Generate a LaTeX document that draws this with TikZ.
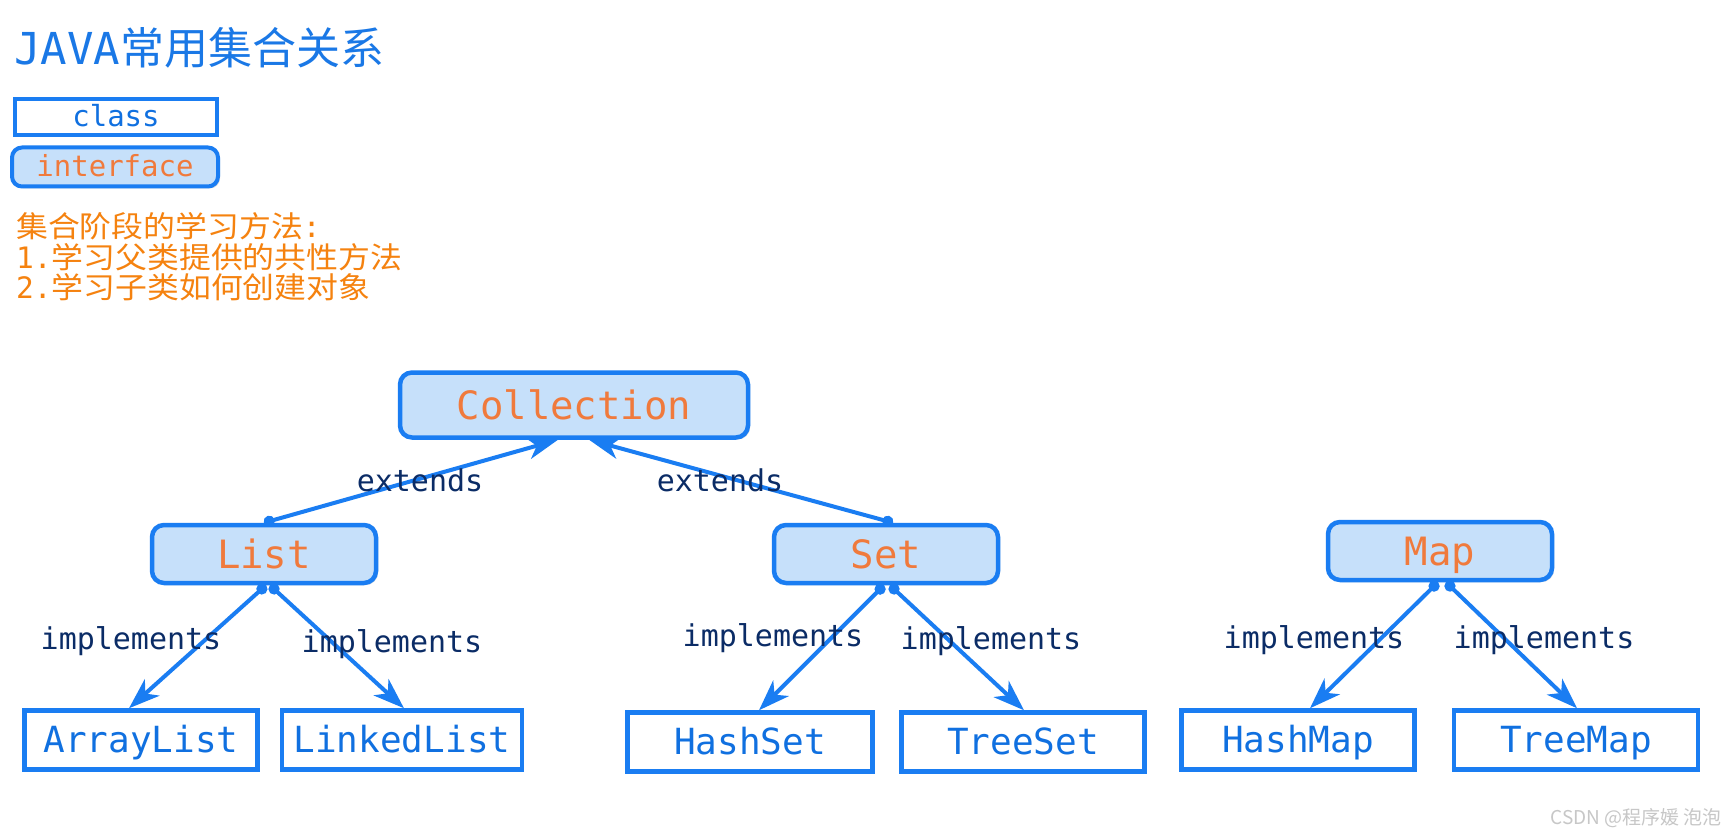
\documentclass[tikz,border=0pt]{standalone}
\usepackage{fontspec}
\setmainfont{DejaVu Sans Mono}
\newfontfamily\cjk{Noto Sans CJK SC}
\newfontfamily\cjknote[FakeStretch=1.08]{Noto Sans CJK SC}
\usepackage{xcolor}
\usepackage{tikz}
\usetikzlibrary{positioning, arrows.meta, shadows}

\definecolor{boxblue}{HTML}{1A7DF2}
\definecolor{ifcfill}{HTML}{C6E0FA}
\definecolor{ifcorange}{HTML}{F07A3C}
\definecolor{clsblue}{HTML}{1070E0}
\definecolor{lblnavy}{HTML}{0B2C66}
\definecolor{noteorange}{HTML}{F5820F}
\definecolor{titleblue}{HTML}{1A78E6}

\begin{document}
\begin{tikzpicture}[
    x=1pt, y=-1pt,
    base/.style={draw=boxblue, line width=4.5pt, inner sep=0pt, align=center,
        drop shadow={shadow xshift=2pt, shadow yshift=-2pt, opacity=0.25}},
    cls/.style={base, rectangle, fill=white, text=clsblue, minimum height=59pt,
        text height=25pt, text depth=0pt, font=\fontsize{36}{40}\selectfont},
    ifc/.style={base, rounded corners=12pt, fill=ifcfill, text=ifcorange,
        minimum width=224pt, minimum height=58pt, text height=28pt, text depth=0pt,
        font=\fontsize{39}{44}\selectfont},
    rel/.style={boxblue, line width=4pt,
        {Circle[length=11pt]}-{Stealth[length=31pt, width=22pt, inset=9pt]}},
    lbl/.style={text=lblnavy, font=\fontsize{30}{34}\selectfont},
    note/.style={anchor=base west, text=noteorange, inner sep=0pt,
        font=\fontsize{29.5}{32}\selectfont}
]
\useasboundingbox[fill=white] (0,0) rectangle (1732,834);

\node[anchor=base west, text=titleblue, font=\fontsize{44}{48}\selectfont, inner sep=0pt]
    (title) at (14,65) {JAVA{\cjk 常用集合关系}};

\node[base, fill=white, text=clsblue, minimum width=202pt, minimum height=36pt,
    text height=20pt, text depth=0pt, line width=4pt,
    font=\fontsize{29}{32}\selectfont] (keycls) at (116,117) {class};
\node[base, rounded corners=10pt, fill=ifcfill, text=ifcorange, minimum width=206pt,
    minimum height=39pt, text height=20pt, text depth=0pt, line width=4pt,
    font=\fontsize{29}{32}\selectfont] (keyifc) at (115,167) {interface};

\node[note] (note1) at (16,238) {{\cjknote 集合阶段的学习方法}:};
\node[note] (note2) at (16,268.5) {1.{\cjknote 学习父类提供的共性方法}};
\node[note] (note3) at (16,299) {2.{\cjknote 学习子类如何创建对象}};

\node[ifc, minimum width=348pt, minimum height=65pt] (coll) at (574,405) {Collection};
\node[ifc] (list) at (264,554) {List};
\node[ifc] (set) at (886,554) {Set};
\node[ifc] (map) at (1440,551) {Map};

\node[cls, minimum width=233pt] (arraylist) at (141,740) {ArrayList};
\node[cls, minimum width=240pt] (linkedlist) at (402,740) {LinkedList};
\node[cls, minimum width=245pt] (hashset) at (750,742) {HashSet};
\node[cls, minimum width=243pt] (treeset) at (1023,742) {TreeSet};
\node[cls, minimum width=233pt] (hashmap) at (1298,740) {HashMap};
\node[cls, minimum width=244pt] (treemap) at (1576,740) {TreeMap};

\draw[rel] (list.north) -- ([xshift=-16pt]coll.south);
\draw[rel] ([xshift=7pt]set.north) -- ([xshift=15pt]coll.south);
\draw[rel] ([xshift=2pt]list.south) -- ([xshift=-12pt]arraylist.north);
\draw[rel] ([xshift=6pt]list.south) -- ([xshift=2pt]linkedlist.north);
\draw[rel] ([xshift=-2pt]set.south) -- ([xshift=9pt]hashset.north);
\draw[rel] ([xshift=4pt]set.south) -- ([xshift=1pt]treeset.north);
\draw[rel] ([xshift=-2pt]map.south) -- ([xshift=12pt]hashmap.north);
\draw[rel] ([xshift=6pt]map.south) -- ([xshift=1pt]treemap.north);

\node[lbl] (ext1) at (420,480) {extends};
\node[lbl] (ext2) at (720,480) {extends};
\node[lbl] (imp1) at (131,641) {implements};
\node[lbl] (imp2) at (392,644) {implements};
\node[lbl] (imp3) at (773,638) {implements};
\node[lbl] (imp4) at (991,641) {implements};
\node[lbl] (imp5) at (1314,640) {implements};
\node[lbl] (imp6) at (1544,640) {implements};

\node[anchor=base east, text=black!22, font=\cjk\fontsize{19}{22}\selectfont, inner sep=0pt]
    (mark) at (1722,824) {CSDN @程序媛 泡泡};
\end{tikzpicture}
\end{document}
